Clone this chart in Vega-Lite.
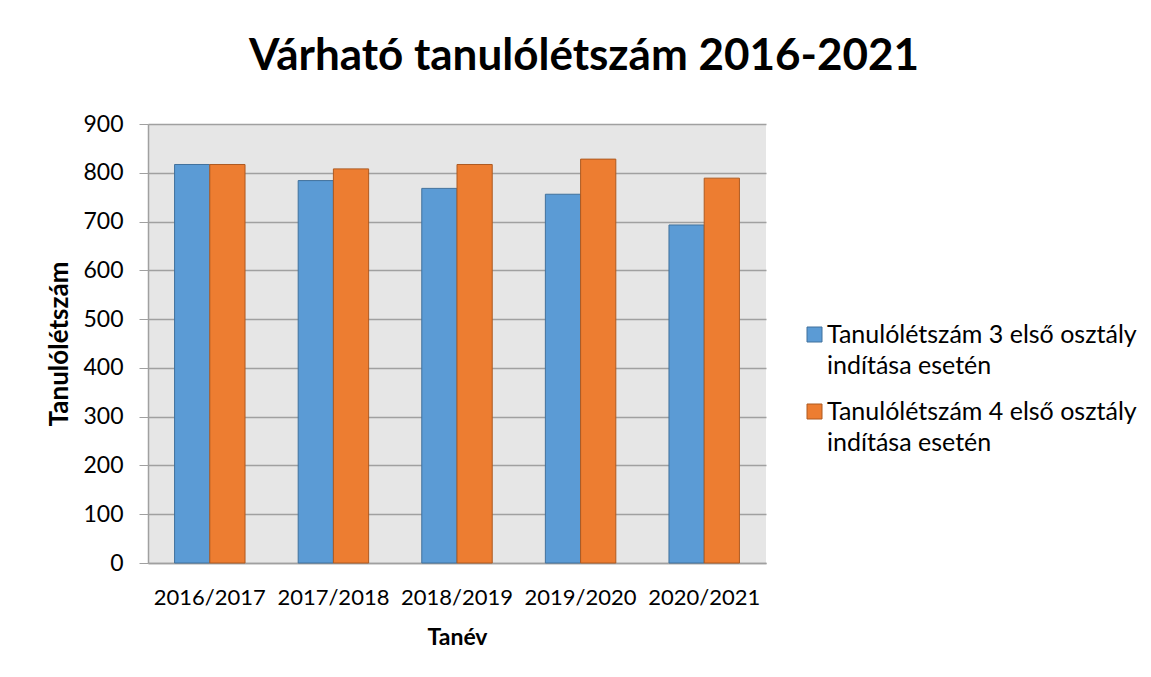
{
  "$schema": "https://vega.github.io/schema/vega-lite/v6.json",
  "width": 618,
  "height": 439,
  "autosize": {"type": "none"},
  "padding": {"left": 148, "top": 124, "right": 385, "bottom": 114},
  "background": "white",
  "title": {
    "text": "Várható tanulólétszám 2016-2021",
    "font": "Lato",
    "fontSize": 44,
    "fontWeight": "bold",
    "color": "black",
    "anchor": "middle",
    "dx": 127,
    "offset": 34
  },
  "data": {
    "values": [
      {"tanev": "2016/2017", "sor": "Tanulólétszám 3 első osztály indítása esetén", "ertek": 817},
      {"tanev": "2016/2017", "sor": "Tanulólétszám 4 első osztály indítása esetén", "ertek": 817},
      {"tanev": "2017/2018", "sor": "Tanulólétszám 3 első osztály indítása esetén", "ertek": 784},
      {"tanev": "2017/2018", "sor": "Tanulólétszám 4 első osztály indítása esetén", "ertek": 808},
      {"tanev": "2018/2019", "sor": "Tanulólétszám 3 első osztály indítása esetén", "ertek": 768},
      {"tanev": "2018/2019", "sor": "Tanulólétszám 4 első osztály indítása esetén", "ertek": 817},
      {"tanev": "2019/2020", "sor": "Tanulólétszám 3 első osztály indítása esetén", "ertek": 756},
      {"tanev": "2019/2020", "sor": "Tanulólétszám 4 első osztály indítása esetén", "ertek": 828},
      {"tanev": "2020/2021", "sor": "Tanulólétszám 3 első osztály indítása esetén", "ertek": 693},
      {"tanev": "2020/2021", "sor": "Tanulólétszám 4 első osztály indítása esetén", "ertek": 789}
    ]
  },
  "mark": {"type": "bar", "strokeWidth": 1},
  "encoding": {
    "x": {
      "field": "tanev",
      "type": "nominal",
      "scale": {"paddingInner": 0.43, "paddingOuter": 0.215},
      "axis": {
        "title": "Tanév",
        "titleFont": "Lato",
        "titleFontSize": 23,
        "titleFontWeight": "bold",
        "titleColor": "black",
        "titlePadding": 18,
        "labelFont": "Lato",
        "labelFontSize": 22,
        "labelColor": "black",
        "labelAngle": 0,
        "labelPadding": 24,
        "ticks": false,
        "domainColor": "#a0a0a0",
        "domainWidth": 1.5
      }
    },
    "xOffset": {"field": "sor", "type": "nominal", "scale": {"paddingInner": 0}},
    "y": {
      "field": "ertek",
      "type": "quantitative",
      "scale": {"domain": [0, 900]},
      "axis": {
        "title": "Tanulólétszám",
        "titleFont": "Lato",
        "titleFontSize": 26,
        "titleFontWeight": "bold",
        "titleColor": "black",
        "titlePadding": 10,
        "labelFont": "Lato",
        "labelFontSize": 23,
        "labelColor": "black",
        "labelPadding": 16,
        "values": [0, 100, 200, 300, 400, 500, 600, 700, 800, 900],
        "tickColor": "#a0a0a0",
        "tickSize": 9,
        "domainColor": "#a0a0a0",
        "domainWidth": 1.5,
        "gridColor": "#a0a0a0",
        "gridWidth": 1.5
      }
    },
    "color": {
      "field": "sor",
      "type": "nominal",
      "scale": {
        "domain": ["Tanulólétszám 3 első osztály indítása esetén", "Tanulólétszám 4 első osztály indítása esetén"],
        "range": ["#5b9bd5", "#ed7d31"]
      },
      "legend": {
        "title": null,
        "orient": "none",
        "legendX": 654,
        "legendY": 198,
        "symbolType": "square",
        "symbolSize": 225,
        "symbolStrokeWidth": 1,
        "labelFont": "Lato",
        "labelFontSize": 25,
        "labelColor": "black",
        "labelLimit": 0,
        "labelOffset": 0,
        "labelBaseline": "middle",
        "rowPadding": 20,
        "labelExpr": "[slice(datum.label, 0, 28), slice(datum.label, 29)]"
      }
    },
    "stroke": {
      "field": "sor",
      "type": "nominal",
      "scale": {
        "domain": ["Tanulólétszám 3 első osztály indítása esetén", "Tanulólétszám 4 első osztály indítása esetén"],
        "range": ["#41719c", "#ae5a21"]
      },
      "legend": null
    }
  },
  "config": {
    "view": {"fill": "#e6e6e6", "stroke": null},
    "style": {"guide-label": {"lineHeight": 31}}
  }
}
